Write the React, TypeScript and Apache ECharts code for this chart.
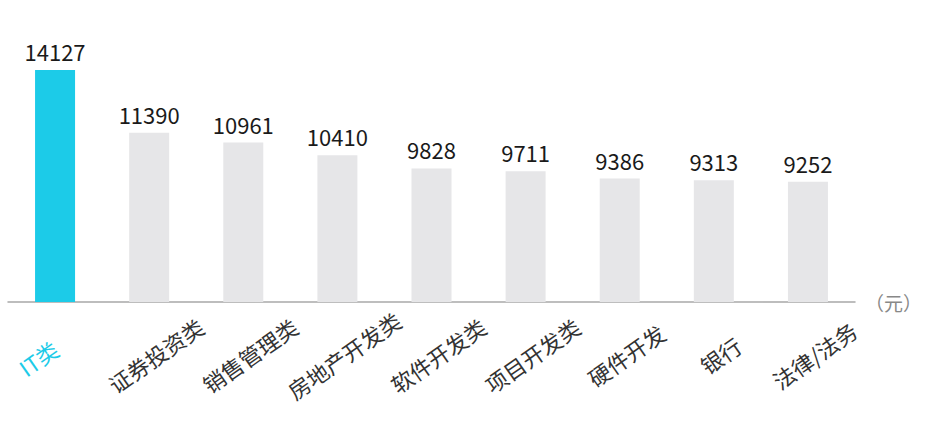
import React, {useEffect, useRef} from 'react';
import * as echarts from 'echarts';

// 行业平均月薪（元）
const categories = ['IT类', '证券投资类', '销售管理类', '房地产开发类', '软件开发类', '项目开发类', '硬件开发', '银行', '法律/法务'];
const salaries = [14127, 11390, 10961, 10410, 9828, 9711, 9386, 9313, 9252];
const highlightIndex = 0;
const unitName = '（元）';

const HIGHLIGHT = '#1ccbe8';
const GREY_BAR = '#e6e6e8';
const FONT = '"Noto Sans CJK SC", "Noto Sans", sans-serif';

const App: React.FC = () => {
  const chartRef = useRef<HTMLDivElement | null>(null);

  useEffect(() => {
    if (!chartRef.current) return;
    const chart = echarts.init(chartRef.current, undefined, {renderer: 'svg'});

    const option: echarts.EChartsOption = {
      animation: false,
      grid: {left: 8, right: 93, top: 50, bottom: 122},
      xAxis: {
        type: 'category',
        data: categories.map((name, i) => i === highlightIndex
          ? {value: name, textStyle: {color: HIGHLIGHT}}
          : name),
        name: unitName,
        nameLocation: 'end',
        nameGap: 10,
        nameTextStyle: {color: '#888', fontSize: 19, fontFamily: FONT, verticalAlign: 'middle', padding: [0, 0, 10, 0]},
        axisLine: {lineStyle: {color: '#a8a8a8', width: 1.5}},
        axisTick: {show: false},
        axisLabel: {
          interval: 0,
          rotate: 35,
          align: 'center',
          verticalAlign: 'top',
          margin: 44,
          color: '#333',
          fontSize: 22,
          fontFamily: FONT
        }
      },
      yAxis: {
        type: 'value',
        min: 4000,
        max: 15000,
        show: false,
        splitLine: {show: false}
      },
      series: [
        {
          type: 'bar',
          barWidth: 40,
          data: salaries.map((v, i) => ({
            value: v,
            itemStyle: {color: i === highlightIndex ? HIGHLIGHT : GREY_BAR}
          })),
          label: {
            show: true,
            position: 'top',
            distance: 8,
            color: '#1a1a1a',
            fontSize: 22,
            fontFamily: FONT
          }
        }
      ]
    };

    chart.setOption(option);
    return () => {
      chart.dispose();
    };
  }, []);

  return <div ref={chartRef} style={{position: 'fixed', left: 0, top: 0, width: 948, height: 424, background: '#fff'}}/>;
};

export default App;
